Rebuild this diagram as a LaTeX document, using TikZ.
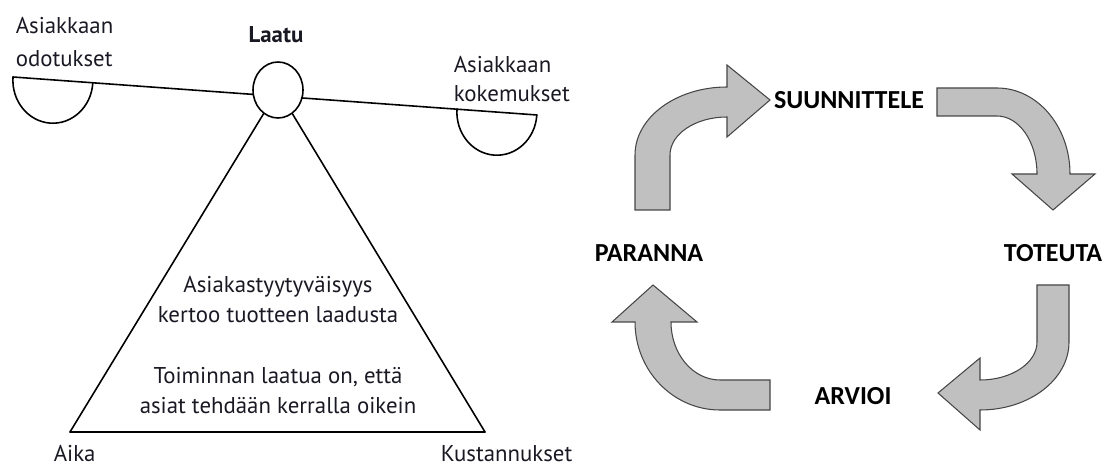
\documentclass[tikz,border=0pt]{standalone}
\usepackage{fontspec}
\setmainfont{PT Sans}
\newfontfamily\cycfont{Carlito}
\usetikzlibrary{shapes.geometric}
\definecolor{arrow_fill}{RGB}{192,192,192}
\definecolor{arrow_edge}{RGB}{70,70,70}
\definecolor{text_dark}{RGB}{25,25,35}

\begin{document}
\begin{tikzpicture}[x=0.02cm,y=0.02cm,line width=0.9pt,line cap=round,line join=round]
    \tikzstyle{txt}=[inner sep=0pt, text=text_dark, font=\fontsize{13}{17.6}\selectfont]
    \tikzstyle{phase}=[inner sep=0pt, text=black, font=\cycfont\bfseries\fontsize{14.8}{18}\selectfont]
    \tikzstyle{bendarrow}=[fill=arrow_fill, draw=arrow_edge, line width=0.6pt, line join=miter]
    \useasboundingbox (0,0) rectangle (1111,-465);

    % scale
    \coordinate (beamL) at (13,-77);
    \coordinate (beamR) at (537,-115);
    \coordinate (panR)  at (457,-109);
    \coordinate (aikaC) at (70,-432);
    \coordinate (kustC) at (485,-432);
    \path (beamL) edge (beamR);
    \draw (beamL) arc[start angle=175.7, end angle=355.7, x radius=40, y radius=43];
    \draw (panR)  arc[start angle=175.7, end angle=355.7, x radius=40, y radius=43];
    \node[draw, fill=white, ellipse, minimum width=1cm, minimum height=1.12cm, inner sep=0pt] (pivot) at (278,-90) {};
    \path
     (pivot) edge (aikaC)
     (aikaC) edge (kustC)
     (kustC) edge (pivot)
     ;

    % texts (base = last line)
    \node[txt, anchor=base west, align=left, font=\fontsize{13}{19}\selectfont] (odot) at (15,-67) {Asiakkaan\\odotukset};
    \node[txt, anchor=base west, align=left, font=\fontsize{13}{17}\selectfont] (kokem) at (453,-102) {Asiakkaan\\kokemukset};
    \node[txt, anchor=base, font=\bfseries\fontsize{13}{17}\selectfont] (laatu) at (276,-43) {Laatu};
    \node[txt, anchor=base, align=center] (tyyt) at (278,-323) {Asiakastyytyväisyys\\kertoo tuotteen laadusta};
    \node[txt, anchor=base, align=center] (toim) at (278,-414) {Toiminnan laatua on, että\\asiat tehdään kerralla oikein};
    \node[txt, anchor=base west] (aika) at (53,-461) {Aika};
    \node[txt, anchor=base west] (kust) at (440,-461) {Kustannukset};

    % cycle
    \node[phase, anchor=base] (plan)  at (849,-109) {SUUNNITTELE};
    \node[phase, anchor=base] (do)    at (1053,-262) {TOTEUTA};
    \node[phase, anchor=base] (check) at (853,-404) {ARVIOI};
    \node[phase, anchor=base] (act)   at (649,-262) {PARANNA};

    \filldraw[bendarrow] (635,-210) -- (635,-155) arc[start angle=180, end angle=90, x radius=92, y radius=68]
        -- (727,-65) -- (770,-100) -- (727,-137) -- (727,-117)
        arc[start angle=90, end angle=180, x radius=57, y radius=38] -- (670,-210) -- cycle;
    \filldraw[bendarrow] (937,-88) -- (997,-88) arc[start angle=90, end angle=0, x radius=73, y radius=86]
        -- (1095,-174) -- (1053,-210) -- (1012,-174) -- (1037,-174)
        arc[start angle=0, end angle=90, x radius=40, y radius=58] -- (937,-116) -- cycle;
    \filldraw[bendarrow] (1069,-285) -- (1069,-342) arc[start angle=0, end angle=-90, x radius=89, y radius=68]
        -- (980,-430) -- (938,-393) -- (980,-358) -- (980,-380)
        arc[start angle=-90, end angle=0, x radius=57, y radius=38] -- (1037,-285) -- cycle;
    \filldraw[bendarrow] (770,-410) -- (720,-410) arc[start angle=-90, end angle=-180, x radius=85, y radius=88]
        -- (612,-322) -- (653,-285) -- (697,-322) -- (671,-322)
        arc[start angle=180, end angle=270, x radius=49, y radius=58] -- (770,-380) -- cycle;
\end{tikzpicture}
\end{document}
